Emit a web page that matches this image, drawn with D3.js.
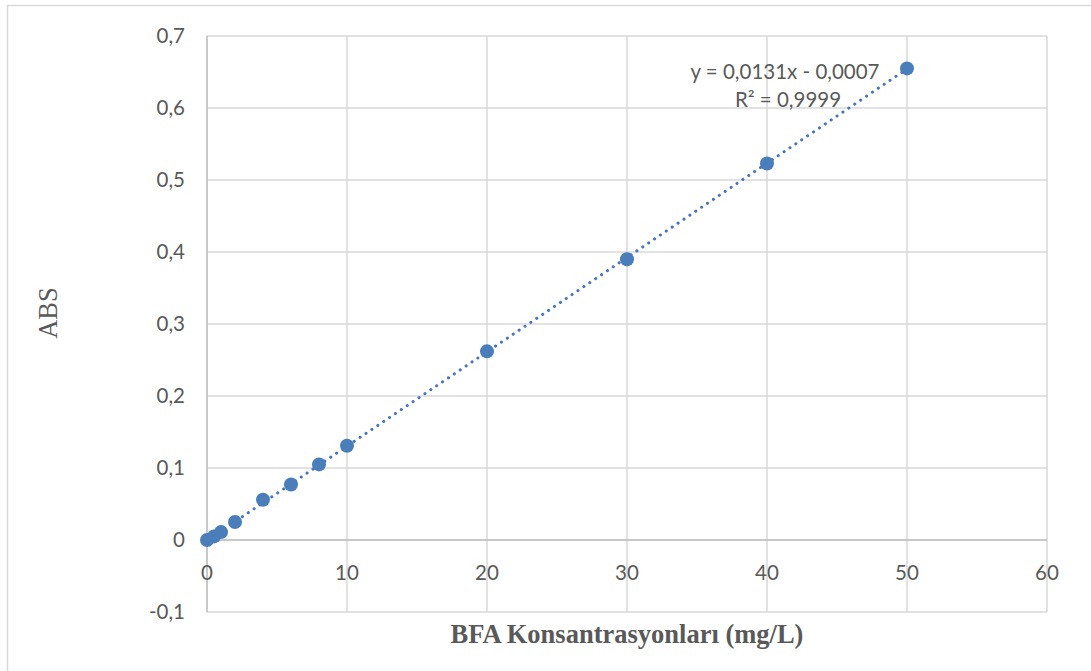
<!DOCTYPE html>
<html>
<head>
<meta charset="utf-8">
<script src="https://cdn.jsdelivr.net/npm/d3@7"></script>
<style>
  body { margin: 0; background: #fff; }
  svg { display: block; }
</style>
</head>
<body>
<div id="graph"></div>
<script>
// data
const conc = [0, 0.5, 1, 2, 4, 6, 8, 10, 20, 30, 40, 50];
const abs = [0.0, 0.005, 0.011, 0.025, 0.056, 0.077, 0.105, 0.131, 0.262, 0.39, 0.523, 0.655];
const xTicks = [0, 10, 20, 30, 40, 50, 60];
const yTicks = [-0.1, 0, 0.1, 0.2, 0.3, 0.4, 0.5, 0.6, 0.7];
const slope = 0.0131, intercept = -0.0007;
const eqText = "y = 0,0131x - 0,0007";
const r2Text = "R² = 0,9999";

const W = 1091, H = 671;
const margin = {top: 36, right: 44, bottom: 59, left: 207};
const width = W - margin.left - margin.right,
  height = H - margin.top - margin.bottom;

const svg = d3.select("#graph")
  .append("svg")
  .attr("width", W)
  .attr("height", H);

// outer chart border
svg.append("rect")
  .attr("x", 7.5).attr("y", 5.5)
  .attr("width", W + 10).attr("height", H + 10)
  .attr("fill", "none")
  .attr("stroke", "#d9d9d9")
  .attr("stroke-width", 1.5);

const g = svg.append("g")
  .attr("transform", `translate(${margin.left}, ${margin.top})`);

const x = d3.scaleLinear().domain([0, 60]).range([0, width]);
const y = d3.scaleLinear().domain([-0.1, 0.7]).range([height, 0]);

// Excel style: comma decimal, plain hyphen for minus
const fmt = d => d === 0 ? "0" : d.toFixed(1).replace(".", ",");

// gridlines
g.selectAll(".hgrid")
  .data(yTicks)
  .join("line")
  .attr("x1", 0).attr("x2", width)
  .attr("y1", d => y(d)).attr("y2", d => y(d))
  .attr("stroke", "#d9d9d9")
  .attr("stroke-width", 1.5);

g.selectAll(".vgrid")
  .data(xTicks)
  .join("line")
  .attr("x1", d => x(d)).attr("x2", d => x(d))
  .attr("y1", 0).attr("y2", height)
  .attr("stroke", "#d9d9d9")
  .attr("stroke-width", 1.5);

// axis lines
g.append("line")
  .attr("x1", x(0)).attr("x2", x(0))
  .attr("y1", 0).attr("y2", height)
  .attr("stroke", "#bfbfbf").attr("stroke-width", 1.5);
g.append("line")
  .attr("x1", 0).attr("x2", width)
  .attr("y1", y(0)).attr("y2", y(0))
  .attr("stroke", "#bfbfbf").attr("stroke-width", 1.5);

// tick labels
g.selectAll(".ylab")
  .data(yTicks)
  .join("text")
  .attr("x", -22)
  .attr("y", d => y(d))
  .attr("dy", "0.35em")
  .attr("text-anchor", "end")
  .attr("font-family", "Lato, 'Open Sans', sans-serif")
  .attr("font-size", 20.5)
  .attr("fill", "#595959")
  .text(fmt);

g.selectAll(".xlab")
  .data(xTicks)
  .join("text")
  .attr("x", d => x(d))
  .attr("y", y(0) + 33)
  .attr("dy", "0.35em")
  .attr("text-anchor", "middle")
  .attr("font-family", "Lato, 'Open Sans', sans-serif")
  .attr("font-size", 20.5)
  .attr("fill", "#595959")
  .text(d => d);

// trendline
g.append("line")
  .attr("x1", x(0)).attr("y1", y(intercept))
  .attr("x2", x(50)).attr("y2", y(slope * 50 + intercept))
  .attr("stroke", "#4472c4")
  .attr("stroke-width", 3)
  .attr("stroke-linecap", "round")
  .attr("stroke-dasharray", "0.1 7");

// points
g.selectAll("circle")
  .data(conc.map((c, i) => [c, abs[i]]))
  .join("circle")
  .attr("cx", d => x(d[0]))
  .attr("cy", d => y(d[1]))
  .attr("r", 7)
  .attr("fill", "#4a7ebb");

// trendline label
const lab = g.append("text")
  .attr("font-family", "Lato, 'Open Sans', sans-serif")
  .attr("font-size", 20.5)
  .attr("fill", "#595959")
  .attr("text-anchor", "middle");
lab.append("tspan").attr("x", 578).attr("y", 43).text(eqText);
lab.append("tspan").attr("x", 581).attr("y", 71).text(r2Text);

// axis titles
svg.append("text")
  .attr("x", 627)
  .attr("y", 643)
  .attr("text-anchor", "middle")
  .attr("font-family", "'Liberation Serif', 'Times New Roman', serif")
  .attr("font-weight", "bold")
  .attr("font-size", 26.5)
  .attr("fill", "#595959")
  .text("BFA Konsantrasyonları (mg/L)");

svg.append("text")
  .attr("transform", "translate(57, 313) rotate(-90)")
  .attr("text-anchor", "middle")
  .attr("font-family", "'Liberation Serif', 'Times New Roman', serif")
  .attr("font-size", 26.5)
  .attr("fill", "#595959")
  .text("ABS");
</script>
</body>
</html>
